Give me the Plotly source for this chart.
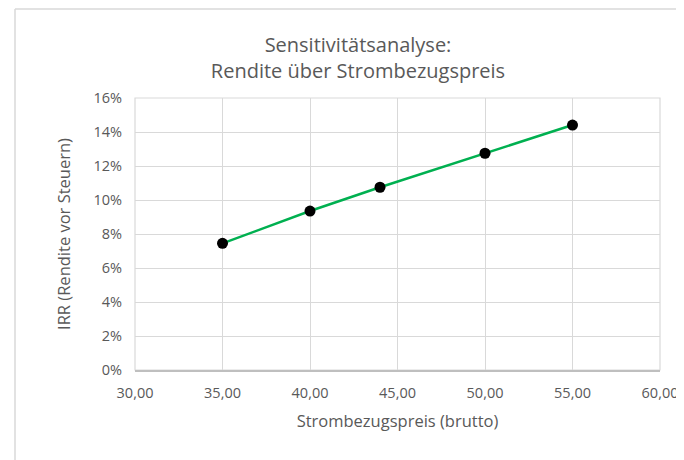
import plotly.graph_objects as go

preis = [35, 40, 44, 50, 55]
irr = [0.0745, 0.0935, 0.1075, 0.1275, 0.1441]
x_ticks = [30, 35, 40, 45, 50, 55, 60]
x_tick_labels = ["30,00", "35,00", "40,00", "45,00", "50,00", "55,00", "60,00"]
y_ticks = [0, 0.02, 0.04, 0.06, 0.08, 0.10, 0.12, 0.14, 0.16]
y_tick_labels = ["0%", "2%", "4%", "6%", "8%", "10%", "12%", "14%", "16%"]

# page body has an 8px margin in the browser; figure sized to fill the rest
W, H = 676, 452
ml, mr, mt, mb = 127, 24, 90, 90
font_fam = "Open Sans, Liberation Sans, sans-serif"
gray = "#595959"

fig = go.Figure()
fig.add_trace(go.Scatter(
    x=preis, y=irr, mode="lines+markers",
    line=dict(color="#00b050", width=2.5),
    marker=dict(color="black", size=11),
    showlegend=False,
))

pw = W - ml - mr
ph = H - mt - mb
# outer chart border (light gray), left and top edges visible
bx = (7 - ml) / pw
by = (H - 1 - mb) / ph
fig.add_shape(type="line", xref="paper", yref="paper", x0=bx, x1=bx, y0=-mb / ph - 0.2, y1=by,
              line=dict(color="#d9d9d9", width=1.5))
fig.add_shape(type="line", xref="paper", yref="paper", x0=bx, x1=(W - ml) / pw + 0.2, y0=by, y1=by,
              line=dict(color="#d9d9d9", width=1.5))
# plot area right/top edges
fig.add_shape(type="rect", xref="paper", yref="paper", x0=0, x1=1, y0=0, y1=1,
              line=dict(color="#d9d9d9", width=1.2), layer="below")

fig.update_layout(
    width=W, height=H,
    margin=dict(l=ml, r=mr, t=mt, b=mb, autoexpand=False),
    paper_bgcolor="white", plot_bgcolor="white",
    font=dict(family=font_fam, color=gray, size=14),
    title=dict(text="Sensitivitätsanalyse:<br>Rendite über Strombezugspreis",
               xref="container", yref="container",
               x=350 / W, xanchor="center", y=1 - 44 / H, yanchor="middle",
               font=dict(size=20, color=gray, family=font_fam)),
    xaxis=dict(range=[30, 60], tickvals=x_ticks, ticktext=x_tick_labels,
               showgrid=True, gridcolor="#d9d9d9", gridwidth=1.2,
               showline=True, linecolor="#bfbfbf", linewidth=1.5,
               zeroline=False, ticks="", ticklabelstandoff=9,
               tickfont=dict(size=14.5, color=gray),
               title=dict(text="Strombezugspreis (brutto)", font=dict(size=16.5, color=gray), standoff=14)),
    yaxis=dict(range=[0, 0.16], tickvals=y_ticks, ticktext=y_tick_labels,
               showgrid=True, gridcolor="#d9d9d9", gridwidth=1.2,
               showline=False, zeroline=False, ticks="", ticklabelstandoff=12,
               tickfont=dict(size=14.5, color=gray),
               title=dict(text="IRR (Rendite vor Steuern)", font=dict(size=16.5, color=gray), standoff=18)),
)

fig.write_html("out.html")
